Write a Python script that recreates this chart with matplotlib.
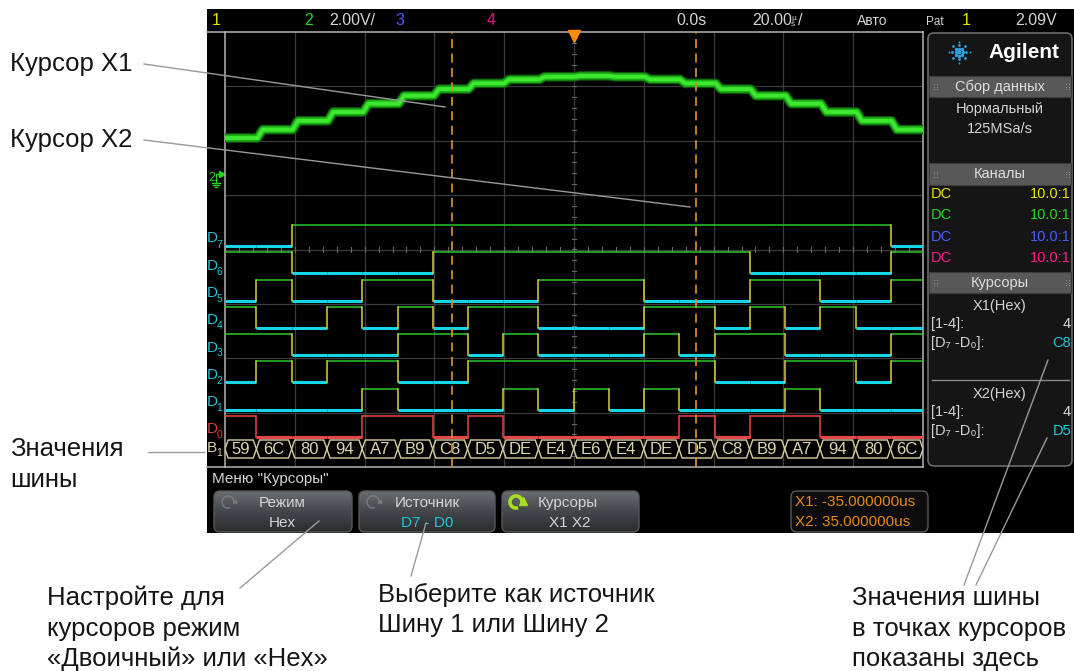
import numpy as np
import matplotlib
matplotlib.use('Agg')
import matplotlib.pyplot as plt
from matplotlib.patches import FancyBboxPatch, Rectangle, Polygon, Arc
from matplotlib.colors import LinearSegmentedColormap
from matplotlib.transforms import blended_transform_factory

# bus values (hex) of each time slot, and the edge times between slots in us
bus_values = ['59', '6C', '80', '94', 'A7', 'B9', 'C8', 'D5', 'DE', 'E4',
              'E6', 'E4', 'DE', 'D5', 'C8', 'B9', 'A7', '94', '80', '6C']
edge_times = [-91.0, -80.9, -70.8, -60.7, -50.5, -40.5, -30.5, -20.4, -10.2, -0.1,
              9.9, 20.0, 30.1, 40.3, 50.3, 60.4, 70.5, 80.7, 90.7]
cursor_times = [-35.0, 35.0]
cursor_bus = ['C8', 'D5']
cursor_pod = ['4', '4']
channel_coupling = ['DC', 'DC', 'DC', 'DC']
channel_probe = ['10.0:1', '10.0:1', '10.0:1', '10.0:1']
# channel 2 shows the DAC output of the bus (volts per code, offset)
dac_lsb = 0.0162
dac_offset = -0.08
ch2_scale = 2.0

W, H = 1074, 671
FONT = 'Liberation Sans'
plt.rcParams['font.family'] = [FONT, 'DejaVu Sans']

fig = plt.figure(figsize=(W / 100, H / 100), dpi=100)
fig.patch.set_facecolor('white')

ax0 = fig.add_axes([0, 0, 1, 1], zorder=0)
ax0.set_xlim(0, W)
ax0.set_ylim(H, 0)
ax0.axis('off')

# scope screen
ax0.add_patch(Rectangle((207, 9), W - 207, 524, fc='black', ec='none', zorder=0))


def st(x, y, s, size=10.5, color='#d4d4d4', ha='left', va='baseline', **kw):
    return ax0.text(x, y, s, fontsize=size, color=color, ha=ha, va=va, **kw)


# ---- graticule ----
L, T, R, B = 225, 32, 923, 467
gx = fig.add_axes([L / W, 1 - B / H, (R - L) / W, (B - T) / H], zorder=2)
gx.set_facecolor('none')
gx.set_xlim(-100, 100)
gx.set_ylim(-4, 4)
gx.set_xticks([])
gx.set_yticks([])
for s in gx.spines.values():
    s.set_color('#b4b4b4')
    s.set_linewidth(1.1)

for xv in range(-80, 100, 20):
    gx.axvline(xv, color='#3c3c3c', lw=0.9, zorder=1)
for yv in range(-3, 4):
    gx.axhline(yv, color='#3c3c3c', lw=0.9, zorder=1)
# minor ticks on the centre lines
for yv in np.arange(-4, 4.01, 0.2):
    gx.plot([-0.7, 0.7], [yv, yv], color='#686868', lw=0.8, zorder=1)
for xv in np.arange(-100, 100.1, 4):
    gx.plot([xv, xv], [-0.045, 0.045], color='#686868', lw=0.8, zorder=1)
# borders reaching to the label column
ax0.plot([207, L], [T, T], color='#b4b4b4', lw=1.1, zorder=1)
ax0.plot([207, L], [B, B], color='#b4b4b4', lw=1.1, zorder=1)


def pdiv(py):
    return (249.5 - py) / 54.375


codes = [int(v, 16) for v in bus_values]
bounds = [-100.0] + edge_times + [100.0]

# ---- channel 2 analog staircase ----
levels = [pdiv(175) + (c * dac_lsb + dac_offset) / ch2_scale for c in codes]
t = [-100.0]
yv = [levels[0]]
for j, e in enumerate(edge_times):
    t += [e + 0.3, e + 1.8]
    yv += [levels[j], levels[j + 1]]
t.append(100.0)
yv.append(levels[-1])
for lw, col in [(7.0, '#0e560a'), (5.2, '#1cb018'), (2.8, '#3ee830')]:
    gx.plot(t, yv, color=col, lw=lw, solid_capstyle='butt', zorder=3)

# ---- digital channels D7..D0 ----
lab_tr = blended_transform_factory(ax0.transData, gx.transData)
for i, bit in enumerate(range(7, -1, -1)):
    hi = pdiv(225 + 27.25 * i)
    lo = pdiv(246 + 27.25 * i)
    bits = [(c >> bit) & 1 for c in codes]
    if bit == 0:
        c_hi, c_lo, c_edge, c_lab = '#e84646', '#e84646', '#e84646', '#e23c3c'
    else:
        c_hi, c_lo, c_edge, c_lab = '#2cc82c', '#14d6e6', '#d8d044', '#1cc8d8'
    for j, b in enumerate(bits):
        y = hi if b else lo
        gx.plot([bounds[j], bounds[j + 1]], [y, y], color=c_hi if b else c_lo,
                lw=1.1 if b else 2.2, solid_capstyle='butt', zorder=4)
        if j > 0 and bits[j - 1] != b:
            gx.plot([bounds[j], bounds[j]], [lo, hi], color=c_edge, lw=1.1, zorder=5)
    ax0.text(207, lo + 7.5 / 54.375, 'D', transform=lab_tr, fontsize=11,
             color=c_lab, ha='left', va='center', zorder=6)
    ax0.text(216.5, lo + 1.5 / 54.375, str(bit), transform=lab_tr, fontsize=7.5,
             color=c_lab, ha='left', va='center', zorder=6)

# ---- bus decode ----
yb = pdiv(449)
hh = 9 / 54.375
d = 0.9
for j, v in enumerate(bus_values):
    a, b = bounds[j], bounds[j + 1]
    pts = [(a, yb), (a + d, yb + hh), (b - d, yb + hh), (b, yb), (b - d, yb - hh), (a + d, yb - hh)]
    gx.add_patch(Polygon(pts, closed=True, fc='none', ec='#d6cfa2', lw=1.0, zorder=4))
    gx.text((a + b) / 2, yb, v, fontsize=12, color='#ddd6ae', ha='center', va='center', zorder=5)
ax0.text(207, yb + 1.5 / 54.375, 'B', transform=lab_tr, fontsize=11, color='#d6cfa2',
         ha='left', va='center', zorder=6)
ax0.text(216.5, yb - 4 / 54.375, '1', transform=lab_tr, fontsize=7.5, color='#d6cfa2',
         ha='left', va='center', zorder=6)

# ---- cursors and trigger marker ----
for ct in cursor_times:
    gx.axvline(ct, color='#d08a2c', lw=1.3, dashes=(5, 3), zorder=6)
gx.plot([0], [pdiv(36)], marker='v', color='#ff8c10', ms=8, clip_on=False, zorder=7)

# channel 2 ground marker
st(208.5, 181, '2', size=9, color='#22d622')
ax0.plot([222], [174], marker='>', color='#22d622', ms=4.5)
ax0.plot([216, 216, 221], [183, 174, 174], color='#22d622', lw=1)
for k, hw in enumerate([4, 2.6, 1.2]):
    ax0.plot([216 - hw, 216 + hw], [183 + 2.2 * k] * 2, color='#22d622', lw=1)

# ---- status bar ----
st(212, 25, '1', size=11.5, color='#e8e400')
st(304, 25, '2', size=11.5, color='#22d622')
st(329, 25, '2.00V/', size=11.5)
st(395, 25, '3', size=11.5, color='#4a5cff')
st(487, 25, '4', size=11.5, color='#e01484')
st(676, 25, '0.0s', size=11.5)
st(752, 25, '20.00', size=11.5)
st(791, 28, 'µ\ns', size=6, va='bottom', linespacing=0.85)
st(798, 25, '/', size=11.5)
st(857, 25, 'Авто', size=10)
st(926, 25, 'Pat', size=8.5)
st(962, 25, '1', size=11.5, color='#e8e400')
st(1015, 25, '2.09V', size=11.5)

# ---- side panel ----
ax0.add_patch(FancyBboxPatch((928, 33), 144, 433, boxstyle='round,pad=0,rounding_size=6',
                             fc='#151515', ec='#6a6a6a', lw=1.2, zorder=1))
# logo
logo_x, logo_y = 959, 52
for ang in range(0, 360, 45):
    rad = np.deg2rad(ang)
    arm = [3.5, 7, 10.5] if ang % 90 == 0 else [4, 8]
    for r, sz in zip(arm, [6, 4, 2]):
        ax0.scatter(logo_x + r * np.cos(rad), logo_y + r * np.sin(rad), s=sz, color='#2aa6e0',
                    lw=0, zorder=3)
ax0.scatter(logo_x, logo_y, s=8, color='#2aa6e0', lw=0, zorder=3)
st(988, 58, 'Agilent', size=15, color='white', fontweight='bold')

for y0, y1, label in [(76, 97, 'Сбор данных'), (163, 185, 'Каналы'), (272, 293, 'Курсоры')]:
    ax0.add_patch(Rectangle((929, y0), 142, y1 - y0, fc='#585858', ec='#3c3c3c', lw=0.8, zorder=2))
    st(1000, (y0 + y1) / 2 + 4, label, size=10.5, color='#dedede', ha='center')
    for gxp in (934, 1066):
        for dx in (0, 2.5):
            for dy in (-2.5, 0, 2.5):
                ax0.scatter(gxp + dx, (y0 + y1) / 2 + dy, s=0.6, color='#9a9a9a', lw=0, zorder=3)

st(1000, 113, 'Нормальный', size=10.5, ha='center')
st(1000, 133, '125MSa/s', size=10.5, ha='center')

ch_colors = ['#e8e400', '#22d622', '#4a5cff', '#ff1a8c']
for k, col in enumerate(ch_colors):
    yy = 198 + 21.3 * k
    st(931, yy, channel_coupling[k], size=10.5, color=col)
    st(1071, yy, channel_probe[k], size=10.5, color=col, ha='right')

for k, y0 in enumerate([305, 393]):
    st(1000, y0 + 5, 'X%d(Hex)' % (k + 1), size=10.5, ha='center')
    st(931, y0 + 23, '[1-4]:', size=10.5)
    st(1071, y0 + 23, cursor_pod[k], size=10.5, ha='right')
    st(931, y0 + 42, '[D₇ -D₀]:', size=10.5)
    st(1071, y0 + 42, cursor_bus[k], size=10.5, ha='right', color='#1cc8d8')
ax0.plot([932, 1069], [380, 380], color='#8a8a8a', lw=1, zorder=2)

# ---- bottom menu ----
st(212, 483, 'Меню "Курсоры"', size=11)
btn_cmap = LinearSegmentedColormap.from_list('btn', ['#6a6e70', '#44474a', '#2a2c2e'])


def button(x0, y0, x1, y1):
    p = FancyBboxPatch((x0, y0), x1 - x0, y1 - y0, boxstyle='round,pad=0,rounding_size=6',
                       fc='none', ec='#55585a', lw=1, zorder=3)
    ax0.add_patch(p)
    grad = np.linspace(0, 1, 64).reshape(-1, 1)
    im = ax0.imshow(grad, extent=[x0, x1, y1, y0], cmap=btn_cmap, aspect='auto',
                    interpolation='bilinear', zorder=2)
    im.set_clip_path(p)


button(214, 491, 352, 532)
button(359, 491, 495, 532)
button(502, 491, 639, 532)


def spin(cx, cy, col, lw):
    ax0.add_patch(Arc((cx, cy), 12, 12, theta1=70, theta2=380, color=col, lw=lw, zorder=4))
    ax0.plot([cx + 6.5], [cy - 1], marker='^', color=col, ms=lw * 2.2, zorder=4)


spin(228, 502, '#7a7c7e', 1.0)
spin(373, 502, '#7a7c7e', 1.0)
spin(516, 502, '#a6e01e', 2.6)
st(282, 507, 'Режим', size=11, ha='center')
st(282, 527, 'Hex', size=11, ha='center')
st(427, 507, 'Источник', size=11, ha='center')
st(427, 527, 'D7 - D0', size=11, ha='center', color='#1cc8d8')
st(538, 507, 'Курсоры', size=11)
st(570, 527, 'X1 X2', size=11, ha='center')

ax0.add_patch(FancyBboxPatch((791, 491), 137, 41, boxstyle='round,pad=0,rounding_size=6',
                             fc='#0c0c0c', ec='#5a5a5a', lw=1, zorder=2))
st(795, 506, 'X1: %.6fus' % cursor_times[0], size=11, color='#e8880e')
st(795, 526, 'X2: %.6fus' % cursor_times[1], size=11, color='#e8880e')

# ---- call-outs on the white margin ----
ax1 = fig.add_axes([0, 0, 1, 1], zorder=10)
ax1.set_xlim(0, W)
ax1.set_ylim(H, 0)
ax1.axis('off')
ax1.patch.set_alpha(0)

leaders = [((144, 64), (445, 107)), ((144, 140), (690, 207)), ((148, 452), (204, 452)),
           ((240, 588), (319, 521)), ((411, 576), (426, 523)),
           ((964, 585), (1048, 360)), ((976, 585), (1047, 438))]
for p, q in leaders:
    ax1.plot([p[0], q[0]], [p[1], q[1]], color='#9a9a9a', lw=1)

notes = [(10, 71.5, 'Курсор X1'), (10, 147, 'Курсор X2'),
         (10, 456, 'Значения'), (10, 487, 'шины'),
         (47, 605, 'Настройте для'), (47, 636, 'курсоров режим'), (47, 666, '«Двоичный» или «Hex»'),
         (378, 602, 'Выберите как источник'), (378, 632, 'Шину 1 или Шину 2'),
         (852, 605, 'Значения шины'), (852, 636, 'в точках курсоров'), (852, 666, 'показаны здесь')]
for x, y, s in notes:
    ax1.text(x, y, s, fontsize=18.5, color='#151515', ha='left', va='baseline')

fig.savefig('out.png', dpi=100, facecolor='white')
